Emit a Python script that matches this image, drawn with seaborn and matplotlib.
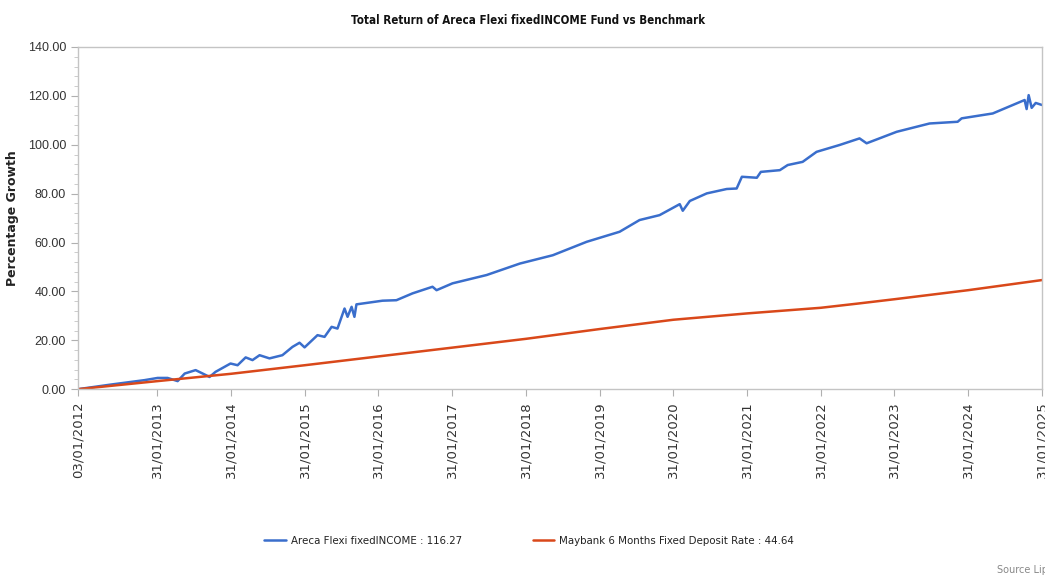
import matplotlib
matplotlib.use("Agg")
import matplotlib.pyplot as plt
import matplotlib.dates as mdates
from matplotlib.ticker import MultipleLocator, FormatStrFormatter
from matplotlib import font_manager
import seaborn as sns
import pandas as pd

# fund series
fund_dates = [
    "2012-01-03", "2012-06-15", "2012-11-28", "2013-02-01", "2013-03-22", "2013-05-11",
    "2013-06-15", "2013-08-08", "2013-09-12", "2013-10-16", "2013-11-15", "2014-01-28",
    "2014-03-04", "2014-04-13", "2014-05-17", "2014-06-21", "2014-08-09", "2014-10-12",
    "2014-12-01", "2015-01-05", "2015-01-30", "2015-04-04", "2015-05-09", "2015-06-13",
    "2015-07-12", "2015-08-16", "2015-08-31", "2015-09-20", "2015-10-04", "2015-10-14",
    "2016-02-20", "2016-04-29", "2016-07-18", "2016-10-25", "2016-11-14", "2017-02-01",
    "2017-07-20", "2018-01-01", "2018-06-13", "2018-11-28", "2019-05-10", "2019-08-17",
    "2019-11-24", "2020-03-03", "2020-03-18", "2020-04-22", "2020-07-15", "2020-10-22",
    "2020-12-10", "2021-01-05", "2021-03-20", "2021-04-09", "2021-07-12", "2021-08-20",
    "2021-11-02", "2022-01-10", "2022-05-04", "2022-08-11", "2022-09-15", "2023-02-11",
    "2023-07-24", "2023-12-10", "2023-12-30", "2024-06-01", "2024-11-06", "2024-11-16",
    "2024-11-26", "2024-12-11", "2024-12-31", "2025-01-31",
]
fund_values = [
    0.0, 1.9, 3.7, 4.6, 4.6, 3.3,
    6.4, 7.8, 6.4, 5.0, 7.1, 10.5,
    9.8, 13.0, 11.9, 13.9, 12.6, 13.9,
    17.3, 19.0, 17.1, 22.1, 21.4, 25.5,
    24.8, 33.0, 29.6, 33.7, 29.6, 34.7,
    36.2, 36.4, 39.2, 41.9, 40.5, 43.3,
    46.7, 51.4, 54.8, 60.3, 64.4, 69.2,
    71.2, 75.7, 73.0, 77.0, 80.1, 81.9,
    82.1, 86.9, 86.5, 88.9, 89.6, 91.7,
    93.0, 97.1, 99.9, 102.6, 100.6, 105.3,
    108.7, 109.4, 110.8, 112.8, 118.3, 114.6,
    120.3, 115.1, 117.1, 116.27,
]

# benchmark series
bench_dates = [
    "2012-01-03", "2013-01-31", "2014-01-31", "2015-01-31", "2016-01-31", "2017-01-31",
    "2018-01-31", "2019-01-31", "2020-01-31", "2021-01-31", "2022-01-31", "2022-07-31",
    "2023-01-31", "2024-01-31", "2025-01-31",
]
bench_values = [
    0.0, 3.3, 6.3, 9.8, 13.4, 17.0,
    20.6, 24.6, 28.4, 31.0, 33.3, 35.0,
    36.8, 40.5, 44.64,
]

tick_dates = ["2012-01-03"] + [f"{y}-01-31" for y in range(2013, 2026)]

fund_name = "Areca Flexi fixedINCOME : 116.27"
bench_name = "Maybank 6 Months Fixed Deposit Rate : 44.64"

df = pd.concat([
    pd.DataFrame({"Date": pd.to_datetime(fund_dates), "Value": fund_values, "Series": fund_name}),
    pd.DataFrame({"Date": pd.to_datetime(bench_dates), "Value": bench_values, "Series": bench_name}),
])

sns.set_style("white")
plt.rcParams["font.family"] = ["DejaVu Sans"]

fig = plt.figure(figsize=(10.45, 5.8), dpi=100)
ax = fig.add_axes([0.0746, 0.329, 0.9225, 0.59])

sns.lineplot(
    data=df, x="Date", y="Value", hue="Series",
    palette={fund_name: "#3A6ECC", bench_name: "#D9481A"},
    linewidth=1.8, ax=ax, legend=True,
)

ax.set_xlim(pd.Timestamp("2012-01-03"), pd.Timestamp("2025-01-31"))
ax.set_ylim(0, 140)
ax.yaxis.set_major_locator(MultipleLocator(20))
ax.yaxis.set_minor_locator(MultipleLocator(4))
ax.yaxis.set_major_formatter(FormatStrFormatter("%.2f"))
ax.set_xticks(pd.to_datetime(tick_dates))
ax.xaxis.set_major_formatter(mdates.DateFormatter("%d/%m/%Y"))

for sp in ax.spines.values():
    sp.set_color("#c4c4c4")
    sp.set_linewidth(1.0)

ax.tick_params(axis="y", which="major", direction="out", length=5, color="#b0b0b0",
               labelsize=9, labelcolor="#333333", left=True)
ax.tick_params(axis="y", which="minor", direction="out", length=3, color="#c4c4c4", left=True)
ax.tick_params(axis="x", which="major", direction="out", length=5, color="#b0b0b0",
               labelsize=9.5, labelcolor="#333333", bottom=True, labelrotation=90)
for lbl in ax.get_yticklabels():
    lbl.set_family(["Liberation Sans", "DejaVu Sans"])

ax.set_xlabel("")
ax.set_ylabel("Percentage Growth", fontsize=9, fontweight="bold", color="#222222", labelpad=6)

# narrow face for title and legend, like the original
narrow = font_manager.FontProperties(family="DejaVu Sans", stretch="condensed",
                                     weight="bold", size=8.3)
fig.text(0.505, 0.965, "Total Return of Areca Flexi fixedINCOME Fund vs Benchmark",
         ha="center", va="center", color="#111111", fontproperties=narrow)

leg_font = font_manager.FontProperties(family="DejaVu Sans", stretch="condensed", size=8.2)
leg = ax.legend(loc="center", bbox_to_anchor=(0.468, -0.445), ncol=2, frameon=False,
                handlelength=1.9, columnspacing=6.2, handletextpad=0.45, prop=leg_font)
for t in leg.get_texts():
    t.set_color("#222222")

fig.text(0.954, 0.008, "Source Lipper", fontsize=7, color="#888888",
         ha="left", va="bottom")

fig.savefig("out.png", dpi=100)
